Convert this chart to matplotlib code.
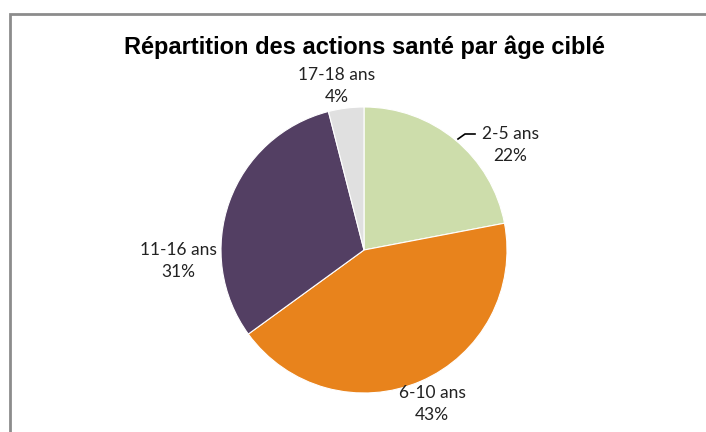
import matplotlib.pyplot as plt
from matplotlib.patches import Rectangle

# data
categories = ["2-5 ans", "6-10 ans", "11-16 ans", "17-18 ans"]
values = [22, 43, 31, 4]
colors = ["#cdddab", "#e8831c", "#533f63", "#e0e0e0"]

# label placement (pixel coords, top-left origin)
label_xy = [(510, 145), (432, 404), (178, 261), (337, 86)]

W, H = 706, 432
fig = plt.figure(figsize=(W / 100, H / 100), dpi=100)
ax = fig.add_axes([0, 0, 1, 1])

# outer chart border (only top and left visible in the crop)
ax.add_patch(Rectangle((9.5, -20), W + 40, H - 13.5 + 20, fill=False,
                       edgecolor="#8c8c8c", linewidth=2))

cx, cy, r = 364, H - 250, 143
ax.pie(values, colors=colors, startangle=90, counterclock=False,
       center=(cx, cy), radius=r, frame=True,
       wedgeprops=dict(edgecolor="white", linewidth=0.8))
ax.set_xlim(0, W)
ax.set_ylim(0, H)
ax.set_aspect("equal")
ax.axis("off")

for cat, v, (x, y) in zip(categories, values, label_xy):
    ax.text(x, H - y, f"{cat}\n{v}%", ha="center", va="center",
            fontsize=12.5, family="Lato", color="#222222", linespacing=1.45)

# leader line for 2-5 ans
ax.plot([458, 465, 475], [H - 139, H - 134, H - 134], color="black", lw=1.2)

ax.text(cx, H - 47, "Répartition des actions santé par âge ciblé",
        ha="center", va="center", fontsize=17, fontweight="bold",
        family="Liberation Sans")

fig.savefig("out.png", dpi=100)
